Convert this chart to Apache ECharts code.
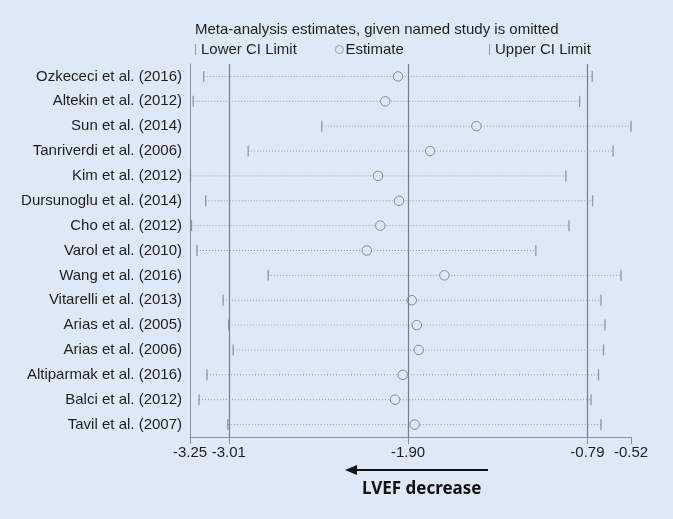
<!DOCTYPE html>
<html>
<head>
<meta charset="utf-8">
<script src="https://cdn.jsdelivr.net/npm/echarts@6/dist/echarts.min.js"></script>
<style>
  html, body { margin: 0; padding: 0; background: #dde9f7; }
  #chart { width: 673px; height: 519px; }
</style>
</head>
<body>
<div id="chart"></div>
<script>
// studies, top to bottom
const studies = [
  'Ozkececi et al. (2016)', 'Altekin et al. (2012)', 'Sun et al. (2014)',
  'Tanriverdi et al. (2006)', 'Kim et al. (2012)', 'Dursunoglu et al. (2014)',
  'Cho et al. (2012)', 'Varol et al. (2010)', 'Wang et al. (2016)',
  'Vitarelli et al. (2013)', 'Arias et al. (2005)', 'Arias et al. (2006)',
  'Altiparmak et al. (2016)', 'Balci et al. (2012)', 'Tavil et al. (2007)'
]
const lowerCI = [-3.165, -3.23, -2.434, -2.89, -3.247, -3.153, -3.241, -3.207,
  -2.766, -3.045, -3.01, -2.983, -3.145, -3.194, -3.016]
const estimate = [-1.962, -2.041, -1.477, -1.764, -2.086, -1.956, -2.072, -2.156,
  -1.675, -1.877, -1.846, -1.834, -1.933, -1.981, -1.859]
const upperCI = [-0.760, -0.838, -0.52, -0.631, -0.923, -0.758, -0.904, -1.109,
  -0.582, -0.706, -0.681, -0.690, -0.721, -0.768, -0.706]
const tickValues = [-3.25, -3.01, -1.90, -0.79, -0.52]
const refLines = [-3.01, -1.90, -0.79]

const markColor = '#7b848e'
const bg = '#dde9f7'
const txt = '#1e1e1e'

const chart = echarts.init(document.getElementById('chart'))
chart.setOption({
  backgroundColor: bg,
  animation: false,
  textStyle: { fontFamily: 'Liberation Sans, Arial, sans-serif' },
  title: {
    text: 'Meta-analysis estimates, given named study is omitted',
    left: 195,
    top: 22,
    padding: 0,
    textStyle: { fontSize: 15, fontWeight: 'normal', color: txt }
  },
  legend: [
    { data: ['Lower CI Limit'], left: 195, top: 42, padding: 0, itemWidth: 1, itemHeight: 11,
      selectedMode: false, textStyle: { fontSize: 15, color: txt } },
    { data: ['Estimate'], left: 335, top: 42, padding: 0, itemWidth: 8, itemHeight: 8,
      itemStyle: { borderWidth: 0.8 },
      selectedMode: false, textStyle: { fontSize: 15, color: txt, padding: [0, 0, 0, -3] } },
    { data: ['Upper CI Limit'], left: 489, top: 42, padding: 0, itemWidth: 1, itemHeight: 11,
      selectedMode: false, textStyle: { fontSize: 15, color: txt } }
  ],
  grid: { left: 190, right: 42, top: 64, bottom: 82 },
  xAxis: {
    type: 'value',
    min: -3.25,
    max: -0.52,
    axisLine: { show: true, lineStyle: { color: '#8a929b' } },
    axisTick: { show: true, customValues: tickValues, length: 7, lineStyle: { color: '#8a929b' } },
    axisLabel: {
      customValues: tickValues,
      formatter: v => v.toFixed(2),
      fontSize: 15,
      color: txt,
      margin: 8
    },
    splitLine: { show: false }
  },
  yAxis: {
    type: 'category',
    inverse: true,
    data: studies,
    axisLine: { show: true, lineStyle: { color: '#8a929b' } },
    axisTick: { show: false },
    axisLabel: { fontSize: 15, color: txt, margin: 8 }
  },
  series: [
    {
      // dotted CI line per study
      type: 'custom',
      name: 'ci',
      silent: true,
      dimensions: ['lo', 'row', 'hi'],
      data: studies.map((s, i) => [lowerCI[i], s, upperCI[i]]),
      encode: { x: [0, 2], y: 1 },
      renderItem(params, api) {
        const a = api.coord([api.value(0), api.value(1)])
        const b = api.coord([api.value(2), api.value(1)])
        return {
          type: 'line',
          shape: { x1: a[0], y1: a[1], x2: b[0], y2: b[1] },
          style: { stroke: '#929ca7', lineWidth: 1, lineDash: [1, 2] }
        }
      },
      z: 2
    },
    {
      type: 'scatter',
      name: 'Lower CI Limit',
      symbol: 'rect',
      symbolSize: [1.3, 11],
      itemStyle: { color: markColor },
      data: studies.map((s, i) => [lowerCI[i], s]),
      markLine: {
        silent: true,
        symbol: 'none',
        label: { show: false },
        lineStyle: { color: '#77808a', width: 1.2, type: 'solid' },
        data: refLines.map(v => ({ xAxis: v }))
      },
      z: 3
    },
    {
      type: 'scatter',
      name: 'Estimate',
      symbol: 'circle',
      symbolSize: 9.5,
      itemStyle: { color: bg, borderColor: '#6d7680', borderWidth: 1 },
      data: studies.map((s, i) => [estimate[i], s]),
      z: 4
    },
    {
      type: 'scatter',
      name: 'Upper CI Limit',
      symbol: 'rect',
      symbolSize: [1.3, 11],
      itemStyle: { color: markColor },
      data: studies.map((s, i) => [upperCI[i], s]),
      z: 3
    }
  ],
  graphic: [
    {
      type: 'line',
      shape: { x1: 488, y1: 470, x2: 354, y2: 470 },
      style: { stroke: '#111', lineWidth: 2 }
    },
    {
      type: 'polygon',
      shape: { points: [[345, 470], [357, 465], [357, 475]] },
      style: { fill: '#111' }
    },
    {
      type: 'text',
      left: 362,
      top: 481,
      style: {
        text: 'LVEF decrease',
        font: 'bold 17px "Noto Sans", "Open Sans", sans-serif',
        fill: '#111'
      }
    }
  ]
})
</script>
</body>
</html>
